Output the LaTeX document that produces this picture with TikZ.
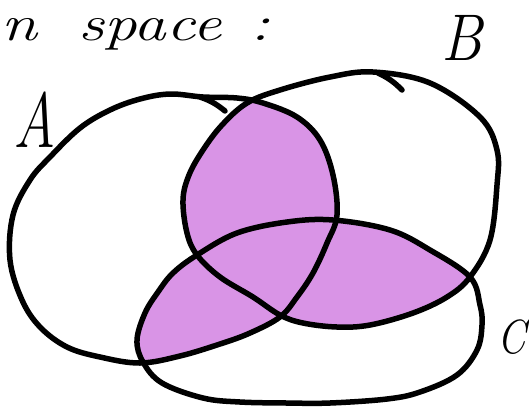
\documentclass[tikz,border=0pt]{standalone}
\usepackage{fontspec}
\definecolor{venn}{RGB}{217,148,230}
\tikzset{
  outline/.style={line width=5.5pt, line join=round, line cap=round, black},
  shade/.style={fill=venn},
  lbl/.style={inner sep=0pt, anchor=base}
}
\newcommand\pathA{plot[smooth cycle, tension=0.6] coordinates {(170,94) (203,97) (237,98) (263,103) (297,117) (320,140) (333,175) (337,215) (327,243) (313,273) (297,297) (280,317) (250,333) (220,344) (180,356) (140,363) (100,357) (67,347) (40,327) (22,300) (10,260) (13,215) (30,180) (50,157) (80,128) (110,110) (140,99)}}
\newcommand\pathB{plot[smooth cycle, tension=0.6] coordinates {(373,72) (430,83) (480,117) (497,150) (497,185) (490,240) (470,277) (447,297) (413,313) (370,325) (337,327) (303,323) (280,315) (253,297) (220,277) (197,255) (187,233) (183,200) (189,175) (203,150) (222,125) (247,103) (280,90) (330,77)}}
\newcommand\pathC{plot[smooth cycle, tension=0.6] coordinates {(333,220) (390,230) (430,250) (470,277) (480,305) (482,325) (477,350) (457,375) (420,392) (387,399) (330,403) (287,403) (240,402) (203,398) (162,383) (143,362) (137,340) (145,313) (158,292) (173,273) (197,255) (237,233) (287,222)}}
\begin{document}
\begin{tikzpicture}[x=1pt,y=-1pt]
  \useasboundingbox (0,0) rectangle (529,408);
  \clip (0,0) rectangle (529,408);
  % shaded pairwise intersections
  \begin{scope}\clip \pathA; \fill[shade] \pathB; \end{scope}
  \begin{scope}\clip \pathB; \fill[shade] \pathC; \end{scope}
  \begin{scope}\clip \pathA; \fill[shade] \pathC; \end{scope}
  % outlines
  \draw[outline] \pathA;
  \draw[outline] \pathB;
  \draw[outline] \pathC;
  % stroke tails
  \coordinate (tA1) at (200,97);
  \coordinate (tA2) at (225,111);
  \coordinate (tB1) at (378,73);
  \coordinate (tB2) at (402,90);
  \draw[outline] (tA1) to[bend left=10] (tA2);
  \draw[outline] (tB1) to[bend left=10] (tB2);
  % labels
  \node[lbl, anchor=base west] (title) at (1,40) {\fontsize{50}{50}\selectfont\itshape\scalebox{1.3}[1]{n\hspace{32pt}space\hspace{22pt}:}};
  \node[lbl] (labA) at (35,147) {\fontsize{78}{78}\selectfont\itshape\scalebox{0.75}[1]{A}};
  \node[lbl] (labB) at (462,60) {\fontsize{66}{66}\selectfont\itshape\scalebox{0.9}[1]{B}};
  \node[lbl] (labC) at (512,353) {\fontsize{48}{48}\selectfont\itshape\scalebox{0.85}[1]{C}};
\end{tikzpicture}
\end{document}
